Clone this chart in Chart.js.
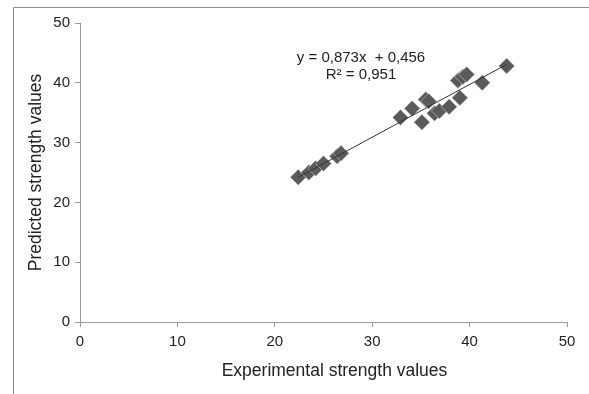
<!DOCTYPE html>
<html>
<head>
<meta charset="utf-8">
<script src="https://cdn.jsdelivr.net/npm/chart.js@4"></script>
<style>
  html, body { margin: 0; padding: 0; background: #fff; }
  #wrap { width: 589px; height: 394px; position: relative; }
</style>
</head>
<body>
<div id="wrap"><canvas id="c" width="589" height="394"></canvas></div>
<script>
// ---- data ----
const experimental = [22.4, 23.5, 24.2, 25.0, 26.4, 26.8, 32.9, 34.1, 35.5, 35.8, 35.1, 36.4, 36.9, 37.9, 39.0, 38.8, 39.3, 39.7, 41.3, 43.8];
const predicted    = [24.2, 25.0, 25.7, 26.5, 27.7, 28.2, 34.2, 35.7, 37.2, 36.9, 33.4, 34.9, 35.3, 36.0, 37.5, 40.4, 41.0, 41.4, 40.0, 42.8];
const axisTicks = [0, 10, 20, 30, 40, 50];
const equationLines = ["y = 0,873x  + 0,456", "R² = 0,951"];
const xTitle = "Experimental strength values";
const yTitle = "Predicted strength values";

// ---- least squares trend line from the points ----
const n = experimental.length;
const mx = experimental.reduce((a, b) => a + b, 0) / n;
const my = predicted.reduce((a, b) => a + b, 0) / n;
let sxy = 0, sxx = 0;
for (let i = 0; i < n; i++) { sxy += (experimental[i] - mx) * (predicted[i] - my); sxx += (experimental[i] - mx) ** 2; }
const slope = sxy / sxx, intercept = my - slope * mx;
const xMin = Math.min(...experimental), xMax = Math.max(...experimental);
const trend = [{x: xMin, y: slope * xMin + intercept}, {x: xMax, y: slope * xMax + intercept}];

const points = experimental.map((x, i) => ({x, y: predicted[i]}));

const FONT = "'Liberation Sans', Arial, sans-serif";
const TEXT = '#222';
const AXIS = '#9a9a9a';

const framePlugin = {
  id: 'frame',
  beforeDraw(chart) {
    const ctx = chart.ctx;
    ctx.save();
    ctx.fillStyle = '#fff';
    ctx.fillRect(0, 0, chart.width, chart.height);
    ctx.strokeStyle = '#8c8c8c';
    ctx.lineWidth = 1;
    ctx.beginPath();
    ctx.moveTo(13.5, chart.height + 2);
    ctx.lineTo(13.5, 7.5);
    ctx.lineTo(chart.width + 2, 7.5);
    ctx.stroke();
    ctx.restore();
  }
};

const textPlugin = {
  id: 'texts',
  afterDatasetsDraw(chart) {
    const ctx = chart.ctx;
    const a = chart.chartArea;
    ctx.save();
    ctx.fillStyle = TEXT;
    ctx.font = "15px " + FONT;
    ctx.textAlign = 'center';
    ctx.textBaseline = 'middle';
    const cx = a.left + (a.right - a.left) * 0.577;
    ctx.fillText(equationLines[0], cx, a.top + 35);
    ctx.fillText(equationLines[1], cx, a.top + 52);
    // x axis title
    ctx.font = "17.5px " + FONT;
    ctx.textBaseline = 'alphabetic';
    ctx.fillText(xTitle, (a.left + a.right) / 2 + 11, a.bottom + 54);
    ctx.restore();
  }
};

new Chart(document.getElementById('c'), {
  type: 'scatter',
  data: {
    datasets: [
      {
        type: 'line',
        data: trend,
        borderColor: '#333',
        borderWidth: 1,
        pointRadius: 0,
        fill: false,
        order: 0
      },
      {
        data: points,
        pointStyle: 'rectRot',
        pointRadius: 8,
        backgroundColor: '#5a5a5a',
        borderColor: 'rgba(255,255,255,0.5)',
        borderWidth: 0.8,
        order: 1
      }
    ]
  },
  options: {
    responsive: false,
    animation: false,
    layout: { padding: { left: 0, top: 23, right: 22, bottom: 0 } },
    plugins: { legend: { display: false }, tooltip: { enabled: false } },
    scales: {
      x: {
        type: 'linear', min: 0, max: 50,
        afterBuildTicks(s) { s.ticks = axisTicks.map(v => ({value: v})); },
        afterFit(s) { s.height = 72; },
        ticks: { color: TEXT, font: { size: 15, family: FONT }, padding: 6, maxRotation: 0 },
        grid: { display: true, drawOnChartArea: false, drawTicks: true, tickLength: 5, color: AXIS },
        border: { display: true, color: AXIS, width: 1 },
        title: { display: false }
      },
      y: {
        type: 'linear', min: 0, max: 50,
        afterBuildTicks(s) { s.ticks = axisTicks.map(v => ({value: v})); },
        afterFit(s) { s.width = 80; },
        ticks: { color: TEXT, font: { size: 15, family: FONT }, padding: 5 },
        grid: { display: true, drawOnChartArea: false, drawTicks: true, tickLength: 5, color: AXIS },
        border: { display: true, color: AXIS, width: 1 },
        title: { display: true, text: yTitle, color: TEXT, font: { size: 17.5, family: FONT }, padding: { top: 26, bottom: 0 } }
      }
    }
  },
  plugins: [framePlugin, textPlugin]
});
</script>
</body>
</html>
